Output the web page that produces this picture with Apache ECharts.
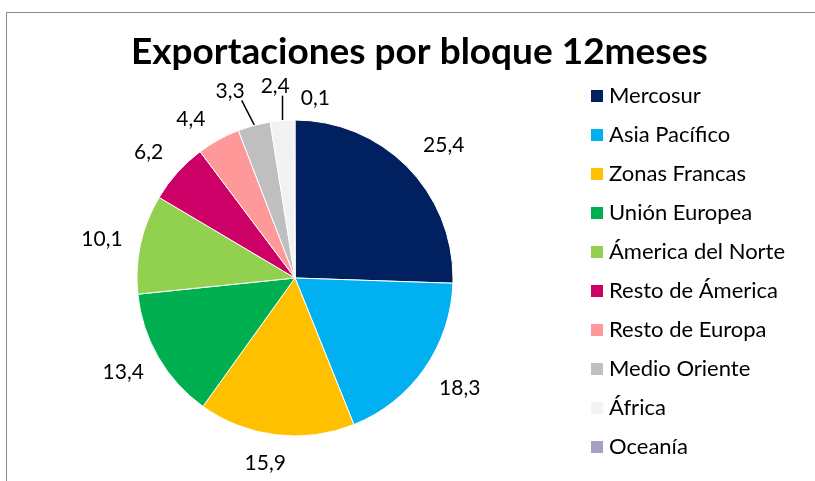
<!DOCTYPE html>
<html>
<head>
<meta charset="utf-8">
<script src="https://cdn.jsdelivr.net/npm/echarts@6/dist/echarts.min.js"></script>
<style>
  html, body { margin: 0; padding: 0; background: #fff; }
  #chart { width: 815px; height: 481px; }
</style>
</head>
<body>
<div id="chart"></div>
<script>
var categories = ['Mercosur', 'Asia Pacífico', 'Zonas Francas', 'Unión Europea', 'Ámerica del Norte',
    'Resto de Ámerica', 'Resto de Europa', 'Medio Oriente', 'África', 'Oceanía'];
var values = [25.4, 18.3, 15.9, 13.4, 10.1, 6.2, 4.4, 3.3, 2.4, 0.1];
var colors = ['#002060', '#00B0F0', '#FFC000', '#00B050', '#92D050',
    '#CC0066', '#FF9999', '#BFBFBF', '#F2F2F2', '#A99DC4'];
// only these two labels get a leader line in the original
var withLine = ['Medio Oriente', 'África'];
// small hand nudges for labels Excel pushed around (crowded top)
var nudges = [[6, -2], [2, 2], [-6, -2], [0, 0], [1, 2], [-3, 0], [-11, 6], [-15, -5], [-4, -4], [21, 9]];

var font = 'Lato, "Open Sans", sans-serif';
var CX = 295, CY = 278, R = 158;

var total = values.reduce(function (a, b) { return a + b; }, 0);
function midAngle(i) {
    var before = 0;
    for (var k = 0; k < i; k++) before += values[k];
    return (before + values[i] / 2) / total * Math.PI * 2; // clockwise from 12 o'clock
}

var chart = echarts.init(document.getElementById('chart'));
chart.setOption({
    animation: false,
    color: colors,
    title: {
        text: 'Exportaciones por bloque 12meses',
        left: 126,
        top: 29,
        textStyle: { fontFamily: font, fontSize: 37, fontWeight: 'bold', color: '#000' }
    },
    legend: {
        orient: 'vertical',
        left: 584,
        top: 80,
        itemWidth: 14,
        itemHeight: 14,
        itemGap: 17,
        icon: 'rect',
        textStyle: { fontFamily: font, fontSize: 22, color: '#000' },
        data: categories
    },
    graphic: [{
        type: 'rect',
        shape: { x: 6.5, y: 12.5, width: 900, height: 600 },
        style: { fill: 'none', stroke: '#868686', lineWidth: 1 },
        silent: true
    }],
    series: [{
        type: 'pie',
        center: [CX, CY],
        radius: R,
        startAngle: 90,
        clockwise: true,
        avoidLabelOverlap: false,
        itemStyle: { borderColor: '#fff', borderWidth: 1 },
        label: {
            show: true,
            position: 'outside',
            fontFamily: font,
            fontSize: 21,
            color: '#000',
            formatter: function (p) { return String(p.value).replace('.', ','); }
        },
        labelLine: { length: 10, length2: 0, lineStyle: { color: '#000', width: 1.5 } },
        labelLayout: function (p) {
            var i = p.dataIndex;
            var a = midAngle(i);
            var dx = Math.sin(a), dy = -Math.cos(a);
            var w = p.labelRect.width, h = p.labelRect.height;
            var x = CX + dx * (R + 20) + dx * w / 2 + nudges[i][0];
            var y = CY + dy * (R + 20) + dy * h / 2 + nudges[i][1];
            var out = { x: x, y: y, align: 'center', verticalAlign: 'middle' };
            if (withLine.indexOf(categories[i]) >= 0) {
                var ex = Math.round(CX + dx * R) + 0.5;
                var ey = CY + dy * R;
                var tx = i === 7 ? x + w / 2 - 3 : ex;
                out.labelLinePoints = [[ex, ey], [tx, y + h / 2 - 1]];
            }
            return out;
        },
        data: categories.map(function (c, i) {
            return {
                name: c,
                value: values[i],
                labelLine: { show: withLine.indexOf(c) >= 0 }
            };
        })
    }]
});
</script>
</body>
</html>
